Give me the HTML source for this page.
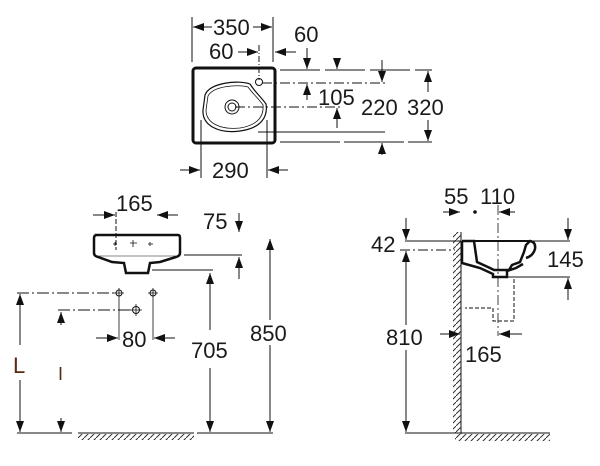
<!DOCTYPE html>
<html><head><meta charset="utf-8"><style>
html,body{margin:0;padding:0;background:#fff;}
svg{display:block;}
text{font-family:"Liberation Sans",sans-serif;font-size:22px;fill:#1a1a1a;}
</style></head><body>
<svg width="600" height="466" viewBox="0 0 600 466" xmlns="http://www.w3.org/2000/svg">
<defs>
<marker id="a" markerUnits="userSpaceOnUse" markerWidth="12" markerHeight="8" refX="11" refY="4" orient="auto"><path d="M0,0 L11,4 L0,8 z" fill="#111"/></marker>
<pattern id="h" width="6" height="6" patternUnits="userSpaceOnUse"><path d="M0,6 L6,0" stroke="#333" stroke-width="1"/></pattern>
</defs>
<g stroke="#111" stroke-width="1" fill="none">
<!-- TOP VIEW -->
<rect x="193" y="68" width="82" height="75" rx="3" stroke-width="3"/>
<path d="M205,95 C210,82 240,80 250,84 C255,92 262,98 266,104 C268,116 262,128 240,131 C218,134 202,125 203,110 Z" stroke-width="1.2"/>
<path d="M208,96 C213,86 238,84 248,87 C253,94 259,99 263,105 C264,115 259,125 240,128 C220,130 206,123 206,110 Z" stroke-width="0.8"/>
<circle cx="232" cy="107" r="7"/><circle cx="232" cy="107" r="4"/>
<circle cx="259" cy="82" r="3.5"/>
<line x1="192" y1="17" x2="192" y2="62"/><line x1="273" y1="17" x2="273" y2="62"/>
<line x1="212" y1="27" x2="193" y2="27" marker-end="url(#a)"/><line x1="253" y1="27" x2="272" y2="27" marker-end="url(#a)"/>
<line x1="238" y1="52" x2="258" y2="52" marker-end="url(#a)"/>
<line x1="296" y1="52" x2="275" y2="52" marker-end="url(#a)"/>
<line x1="259" y1="45" x2="259" y2="80" stroke-dasharray="6,2,1,2"/>
<line x1="307" y1="48" x2="307" y2="69" marker-end="url(#a)"/>
<line x1="280" y1="70" x2="432" y2="70" stroke-dasharray="40,5"/>
<line x1="262" y1="83" x2="385" y2="83" stroke-dasharray="10,3,2,3"/>
<line x1="235" y1="107" x2="340" y2="107" stroke-dasharray="10,3,2,3"/>
<line x1="258" y1="132" x2="385" y2="132"/>
<line x1="280" y1="142" x2="432" y2="142" stroke-dasharray="60,4"/>
<line x1="307" y1="100" x2="307" y2="84" marker-end="url(#a)"/>
<line x1="337" y1="60" x2="337" y2="69" marker-end="url(#a)"/>
<line x1="337" y1="128" x2="337" y2="108" marker-end="url(#a)"/>
<line x1="382" y1="60" x2="382" y2="82" marker-end="url(#a)"/>
<line x1="382" y1="155" x2="382" y2="143" marker-end="url(#a)"/>
<line x1="428" y1="92" x2="428" y2="71" marker-end="url(#a)"/>
<line x1="428" y1="120" x2="428" y2="141" marker-end="url(#a)"/>
<line x1="201" y1="120" x2="201" y2="178"/><line x1="267" y1="120" x2="267" y2="178"/>
<line x1="180" y1="170" x2="200" y2="170" marker-end="url(#a)"/><line x1="288" y1="170" x2="268" y2="170" marker-end="url(#a)"/>
<!-- FRONT VIEW -->
<path d="M95,235 L178,235 Q180,235 180,238 L180,253 Q180,256 176,257 L160,262 L150,263 L148,273 L126,273 L124,263 L112,262 L98,257 Q94,256 94,253 L94,238 Q94,235 97,235 Z" stroke-width="2.5"/>
<line x1="98" y1="256" x2="176" y2="256" stroke-width="0.5"/>
<path d="M113,244 h4 M115,242 v4 M130,243 h7 M133,240 v7 M148,244 h5 M150,242 v4" stroke-width="0.8"/>
<line x1="93" y1="215" x2="115" y2="215" marker-end="url(#a)"/>
<line x1="178" y1="215" x2="157" y2="215" marker-end="url(#a)"/>
<line x1="116" y1="212" x2="116" y2="250" stroke-dasharray="5,2"/>
<line x1="239" y1="213" x2="239" y2="232" marker-end="url(#a)"/>
<line x1="184" y1="255" x2="242" y2="255"/>
<line x1="239" y1="279" x2="239" y2="257" marker-end="url(#a)"/>
<line x1="152" y1="270" x2="213" y2="270"/>
<line x1="210" y1="330" x2="210" y2="273" marker-end="url(#a)"/>
<line x1="210" y1="368" x2="210" y2="432" marker-end="url(#a)"/>
<line x1="270" y1="320" x2="270" y2="239" marker-end="url(#a)"/>
<line x1="270" y1="345" x2="270" y2="432" marker-end="url(#a)"/>
<line x1="17" y1="433" x2="72" y2="433"/><line x1="197" y1="433" x2="273" y2="433"/>
<line x1="78" y1="433" x2="194" y2="433"/>
<rect x="78" y="434" width="116" height="6" fill="url(#h)" stroke="none"/>
<line x1="17" y1="293" x2="116" y2="293" stroke-dasharray="12,3,2,3"/>
<line x1="58" y1="310" x2="133" y2="310" stroke-dasharray="12,3,2,3"/>
<circle cx="119" cy="293" r="3"/><circle cx="153" cy="293" r="3"/><circle cx="136" cy="310" r="3.5"/>
<path d="M119,288 v52 M153,288 v52 M114,293 h10 M148,293 h10 M136,304 v12 M130,310 h12" stroke-width="0.8"/>
<line x1="96" y1="338" x2="118" y2="338" marker-end="url(#a)"/>
<line x1="175" y1="338" x2="154" y2="338" marker-end="url(#a)"/>
<line x1="20" y1="345" x2="20" y2="294" marker-end="url(#a)"/>
<line x1="20" y1="380" x2="20" y2="432" marker-end="url(#a)"/>
<line x1="61" y1="325" x2="61" y2="312" marker-end="url(#a)"/>
<line x1="61" y1="418" x2="61" y2="432" marker-end="url(#a)"/>
<!-- SIDE VIEW -->
<line x1="461" y1="232" x2="461" y2="434"/>
<rect x="453" y="232" width="8" height="201" fill="url(#h)" stroke="none"/>
<line x1="405" y1="433" x2="550" y2="433"/>
<rect x="455" y="434" width="95" height="7" fill="url(#h)" stroke="none"/>
<line x1="443" y1="212" x2="460" y2="212" marker-end="url(#a)"/>
<line x1="515" y1="212" x2="499" y2="212" marker-end="url(#a)"/>
<circle cx="475" cy="212" r="1.3" fill="#111"/>
<line x1="498" y1="205" x2="498" y2="336" stroke-dasharray="10,3,2,3" stroke-width="0.8"/>
<line x1="405" y1="241" x2="461" y2="241"/><line x1="533" y1="241" x2="570" y2="241"/>
<line x1="400" y1="250" x2="455" y2="250" stroke-dasharray="10,3,2,3"/>
<line x1="406" y1="218" x2="406" y2="240" marker-end="url(#a)"/>
<line x1="406" y1="325" x2="406" y2="251" marker-end="url(#a)"/>
<line x1="406" y1="350" x2="406" y2="432" marker-end="url(#a)"/>
<line x1="568" y1="218" x2="568" y2="240" marker-end="url(#a)"/>
<line x1="508" y1="277" x2="570" y2="277"/>
<line x1="568" y1="300" x2="568" y2="278" marker-end="url(#a)"/>
<path d="M462,241 L474,241 L477,262 L490,268 L494,270 L509,270 L512,265 L520,262 L524,252 L526,245 L530,241 Q536,242 535,249 Q533,256 526,258 M462,241 L462,263 L480,268 L493,274 L493,277 L507,277 L507,271 L516,268 L523,264" stroke-width="2.5"/>
<line x1="462" y1="241" x2="530" y2="241" stroke-width="2"/>
<path d="M514,279 V321 H493 V308 H465" stroke-dasharray="4,2"/>
<line x1="440" y1="334" x2="460" y2="334" marker-end="url(#a)"/>
<line x1="522" y1="334" x2="499" y2="334" marker-end="url(#a)"/>
</g>
<g>
<text x="213" y="35">350</text>
<text x="209" y="59">60</text>
<text x="294" y="42">60</text>
<text x="318" y="105">105</text>
<text x="361" y="115">220</text>
<text x="407" y="115">320</text>
<text x="212" y="178">290</text>
<text x="116" y="211">165</text>
<text x="203" y="229">75</text>
<text x="122" y="347">80</text>
<text x="191" y="358">705</text>
<text x="250" y="341">850</text>
<text x="13" y="373" style="fill:#5a2a10">L</text>
<text x="58" y="380" style="font-size:18px;fill:#5a2a10">I</text>
<text x="444" y="204">55</text>
<text x="480" y="204">110</text>
<text x="371" y="252">42</text>
<text x="547" y="267">145</text>
<text x="386" y="345">810</text>
<text x="465" y="362">165</text>
</g>
</svg>
</body></html>
